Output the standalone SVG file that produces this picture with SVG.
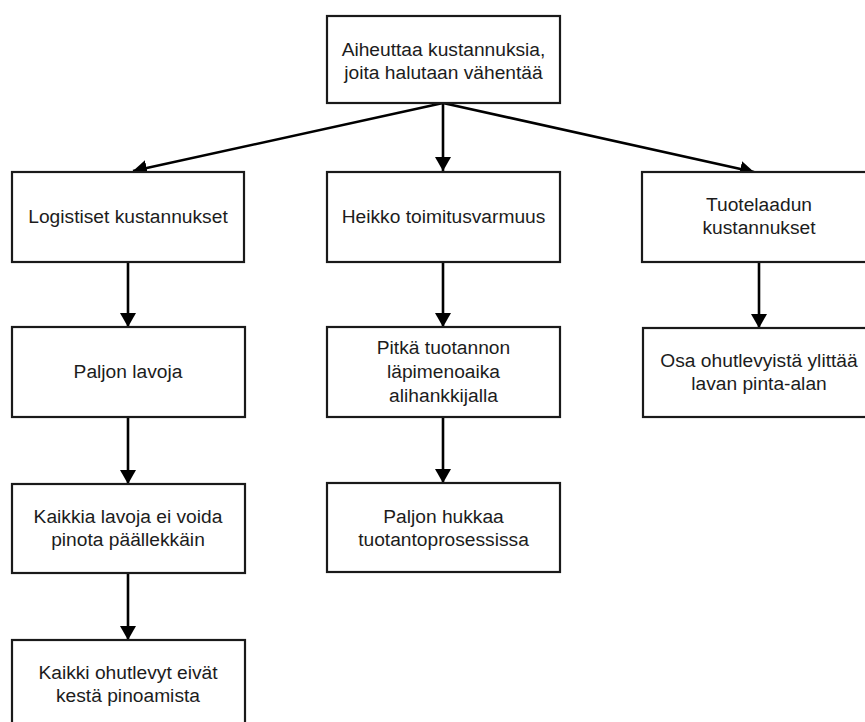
<svg xmlns="http://www.w3.org/2000/svg" width="865" height="722" viewBox="0 0 865 722">
  <style>
    .box { fill: #ffffff; stroke: #1a1a1a; stroke-width: 2.2; }
    .lbl { font-family: "Liberation Sans", Arial, sans-serif; font-size: 19.2px; fill: #1c1c1c; text-anchor: middle; }
    .edge { stroke: #000000; stroke-width: 2.6; fill: none; marker-end: url(#head); }
  </style>
  <defs>
    <marker id="head" markerUnits="userSpaceOnUse" viewBox="0 0 14 16" markerWidth="14" markerHeight="16" refX="14" refY="8" orient="auto">
      <path d="M0,0 L14,8 L0,16 Z" fill="#000000"/>
    </marker>
  </defs>

  <rect width="865" height="722" fill="#ffffff"/>

  <!-- connectors -->
  <g id="connectors">
    <line class="edge" x1="443" y1="103" x2="133" y2="171"/>
    <line class="edge" x1="443" y1="103" x2="443" y2="171"/>
    <line class="edge" x1="443" y1="103" x2="754" y2="172"/>
    <line class="edge" x1="128" y1="262" x2="128" y2="327"/>
    <line class="edge" x1="128" y1="417" x2="128" y2="484"/>
    <line class="edge" x1="128" y1="573" x2="128" y2="640"/>
    <line class="edge" x1="443" y1="262" x2="443" y2="327"/>
    <line class="edge" x1="443" y1="417" x2="443" y2="483"/>
    <line class="edge" x1="759" y1="262" x2="759" y2="328"/>
  </g>

  <!-- root -->
  <g id="root">
    <rect class="box" x="327" y="16" width="233" height="87"/>
    <text class="lbl" x="443.5" y="56">Aiheuttaa kustannuksia,</text>
    <text class="lbl" x="443.5" y="79">joita halutaan vähentää</text>
  </g>

  <!-- first level -->
  <g id="logistics">
    <rect class="box" x="12" y="172" width="232" height="90"/>
    <text class="lbl" x="128" y="223">Logistiset kustannukset</text>
  </g>
  <g id="delivery">
    <rect class="box" x="327" y="172" width="233" height="90"/>
    <text class="lbl" x="443.5" y="223">Heikko toimitusvarmuus</text>
  </g>
  <g id="quality">
    <rect class="box" x="642" y="172" width="234" height="90"/>
    <text class="lbl" x="759" y="211">Tuotelaadun</text>
    <text class="lbl" x="759" y="234">kustannukset</text>
  </g>

  <!-- logistics branch -->
  <g id="pallets">
    <rect class="box" x="12" y="327" width="233" height="90"/>
    <text class="lbl" x="128" y="378">Paljon lavoja</text>
  </g>
  <g id="stacking">
    <rect class="box" x="12" y="484" width="233" height="89"/>
    <text class="lbl" x="128" y="523">Kaikkia lavoja ei voida</text>
    <text class="lbl" x="128" y="546">pinota päällekkäin</text>
  </g>
  <g id="sheets">
    <rect class="box" x="12" y="640" width="233" height="90"/>
    <text class="lbl" x="128" y="679">Kaikki ohutlevyt eivät</text>
    <text class="lbl" x="128" y="702">kestä pinoamista</text>
  </g>

  <!-- delivery branch -->
  <g id="leadtime">
    <rect class="box" x="327" y="327" width="233" height="90"/>
    <text class="lbl" x="443.5" y="354">Pitkä tuotannon</text>
    <text class="lbl" x="443.5" y="378">läpimenoaika</text>
    <text class="lbl" x="443.5" y="402">alihankkijalla</text>
  </g>
  <g id="waste">
    <rect class="box" x="327" y="483" width="233" height="89"/>
    <text class="lbl" x="443.5" y="523">Paljon hukkaa</text>
    <text class="lbl" x="443.5" y="546">tuotantoprosessissa</text>
  </g>

  <!-- quality branch -->
  <g id="oversize">
    <rect class="box" x="643" y="328" width="234" height="89"/>
    <text class="lbl" x="759" y="367">Osa ohutlevyistä ylittää</text>
    <text class="lbl" x="759" y="390">lavan pinta-alan</text>
  </g>
</svg>
